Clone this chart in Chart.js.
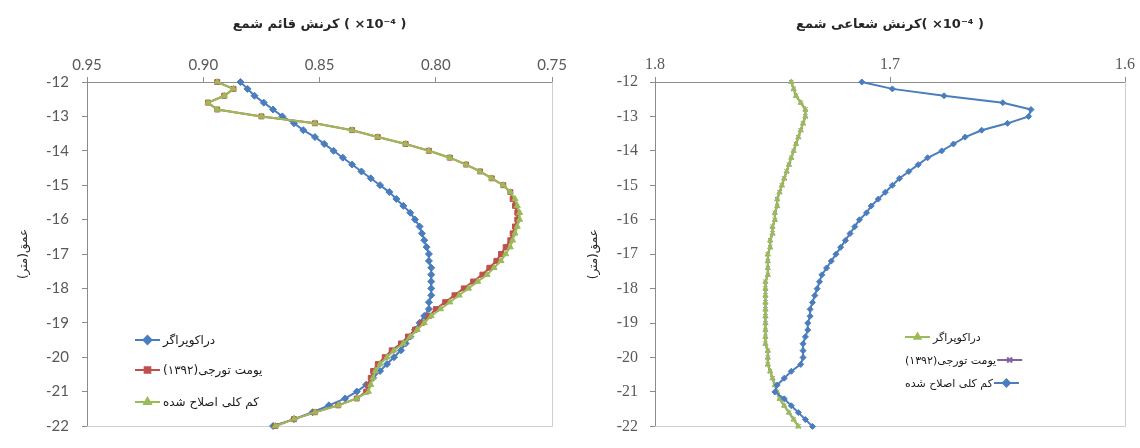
<!DOCTYPE html>
<html>
<head>
<meta charset="utf-8">
<script src="https://cdn.jsdelivr.net/npm/chart.js@4.4.0/dist/chart.umd.min.js"></script>
<style>
    html, body { margin: 0; padding: 0; background: #fff; }
    #wrap { position: relative; width: 1140px; height: 448px; }
    .box { position: absolute; top: 0; width: 570px; height: 448px; }
</style>
</head>
<body>
<div id="wrap">
    <div class="box" style="left:0"><canvas id="axialChart" width="570" height="448"></canvas></div>
    <div class="box" style="left:570px"><canvas id="radialChart" width="570" height="448"></canvas></div>
</div>
<script>
// depth (m), shared by every series
const depths = [
    -12, -12.2, -12.4, -12.6, -12.8, -13, -13.2, -13.4, -13.6, -13.8,
    -14, -14.2, -14.4, -14.6, -14.8, -15, -15.2, -15.4, -15.6, -15.8,
    -16, -16.2, -16.4, -16.6, -16.8, -17, -17.2, -17.4, -17.6, -17.8,
    -18, -18.2, -18.4, -18.6, -18.8, -19, -19.2, -19.4, -19.6, -19.8,
    -20, -20.2, -20.4, -20.6, -20.8, -21, -21.2, -21.4, -21.6, -21.8, -22
];

const seriesNames = ['دراکوپراگر', 'یومت تورجی(۱۳۹۲)', 'کم کلی اصلاح شده'];

// LRM marks keep "×10⁻⁴" left-to-right inside the Persian title
const axialTitle = 'کرنش قائم شمع ( \u200E×10⁻⁴\u200E )';
const radialTitle = 'کرنش شعاعی شمع( \u200E×10⁻⁴\u200E )';
const depthTitle = 'عمق(متر)';

const depthTicks = [-12, -13, -14, -15, -16, -17, -18, -19, -20, -21, -22];
const axialTicks = [0.95, 0.90, 0.85, 0.80, 0.75];
const radialTicks = [1.8, 1.7, 1.6];

// left chart: axial strain
const axialDrako = [
    0.884, 0.881, 0.878, 0.874, 0.870, 0.866, 0.861, 0.857, 0.852, 0.848,
    0.844, 0.840, 0.836, 0.832, 0.828, 0.824, 0.820, 0.817, 0.814, 0.811,
    0.809, 0.807, 0.806, 0.805, 0.804, 0.803, 0.803, 0.802, 0.802, 0.802,
    0.802, 0.802, 0.803, 0.803, 0.805, 0.807, 0.809, 0.811, 0.813, 0.815,
    0.818, 0.821, 0.824, 0.827, 0.830, 0.834, 0.839, 0.846, 0.853, 0.861, 0.870
];
const axialTorji = [
    0.894, 0.887, 0.891, 0.898, 0.894, 0.875, 0.852, 0.836, 0.825, 0.813,
    0.803, 0.794, 0.787, 0.781, 0.776, 0.771, 0.768, 0.767, 0.766, 0.765,
    0.765, 0.766, 0.767, 0.768, 0.770, 0.772, 0.774, 0.777, 0.780, 0.784,
    0.788, 0.792, 0.796, 0.800, 0.803, 0.806, 0.809, 0.812, 0.815, 0.819,
    0.822, 0.825, 0.827, 0.828, 0.829, 0.830, 0.834, 0.842, 0.852, 0.861, 0.869
];
const axialModified = [
    0.894, 0.887, 0.891, 0.898, 0.894, 0.875, 0.852, 0.836, 0.825, 0.813,
    0.803, 0.794, 0.787, 0.781, 0.776, 0.771, 0.768, 0.766, 0.765, 0.764,
    0.764, 0.765, 0.766, 0.767, 0.768, 0.770, 0.772, 0.775, 0.778, 0.782,
    0.786, 0.790, 0.794, 0.798, 0.802, 0.805, 0.808, 0.811, 0.814, 0.818,
    0.821, 0.824, 0.826, 0.827, 0.828, 0.829, 0.834, 0.842, 0.852, 0.861, 0.869
];

// right chart: radial strain
const radialDrako = [
    1.742, 1.741, 1.740, 1.738, 1.736, 1.736, 1.737, 1.738, 1.739, 1.740,
    1.741, 1.742, 1.743, 1.744, 1.745, 1.746, 1.747, 1.748, 1.748, 1.749,
    1.749, 1.750, 1.750, 1.751, 1.751, 1.752, 1.752, 1.752, 1.752, 1.753,
    1.753, 1.753, 1.753, 1.753, 1.753, 1.753, 1.753, 1.753, 1.753, 1.752,
    1.752, 1.752, 1.751, 1.750, 1.749, 1.748, 1.747, 1.745, 1.743, 1.741, 1.739
];
const radialTorji = [
    1.742, 1.741, 1.740, 1.738, 1.736, 1.736, 1.737, 1.738, 1.739, 1.740,
    1.741, 1.742, 1.743, 1.744, 1.745, 1.746, 1.747, 1.748, 1.748, 1.749,
    1.749, 1.750, 1.750, 1.751, 1.751, 1.752, 1.752, 1.752, 1.752, 1.753,
    1.753, 1.753, 1.753, 1.753, 1.753, 1.753, 1.753, 1.753, 1.753, 1.752,
    1.752, 1.752, 1.751, 1.750, 1.749, 1.748, 1.747, 1.745, 1.743, 1.741, 1.739
];
const radialModified = [
    1.712, 1.699, 1.677, 1.652, 1.640, 1.641, 1.650, 1.661, 1.668, 1.673,
    1.678, 1.684, 1.688, 1.692, 1.696, 1.699, 1.702, 1.705, 1.708, 1.710,
    1.713, 1.715, 1.717, 1.719, 1.721, 1.723, 1.725, 1.727, 1.729, 1.730,
    1.731, 1.732, 1.733, 1.734, 1.734, 1.735, 1.735, 1.736, 1.737, 1.737,
    1.737, 1.738, 1.742, 1.745, 1.748, 1.749, 1.745, 1.742, 1.739, 1.736, 1.733
];

const BLUE = '#4a7dbd';
const RED = '#c0504d';
const GREEN = '#9bbb59';
const PURPLE = '#8064a2';
const AXIS = '#8c8c8c';
const TICK_TEXT = '#595959';
const PERSIAN_FONT = 'DejaVu Sans';

function toPoints(values) {
    return values.map((v, i) => ({ x: v, y: depths[i] }));
}

function series(label, values, color, style, radius, order) {
    return {
        label: label,
        data: toPoints(values),
        borderColor: color,
        backgroundColor: color,
        pointBackgroundColor: color,
        pointBorderColor: color,
        pointStyle: style,
        pointRadius: radius,
        pointBorderWidth: 1,
        borderWidth: 2,
        showLine: true,
        tension: 0,
        clip: false,
        order: order
    };
}

// light frame on right/bottom of the plot area (excel look)
const framePlugin = {
    id: 'frame',
    beforeDatasetsDraw(chart) {
        const { ctx, chartArea: a } = chart;
        ctx.save();
        ctx.strokeStyle = '#cfcfcf';
        ctx.lineWidth = 1;
        ctx.beginPath();
        ctx.moveTo(Math.round(a.right) + 0.5, a.top);
        ctx.lineTo(Math.round(a.right) + 0.5, Math.round(a.bottom) + 0.5);
        ctx.lineTo(a.left, Math.round(a.bottom) + 0.5);
        ctx.stroke();
        ctx.restore();
    }
};

// legend drawn inside the plot area; some rows put the text before the symbol
const insideLegend = {
    id: 'insideLegend',
    afterDraw(chart, args, opts) {
        const ctx = chart.ctx;
        ctx.save();
        ctx.font = opts.fontSize + 'px "' + PERSIAN_FONT + '"';
        ctx.textBaseline = 'middle';
        ctx.direction = 'rtl';
        ctx.textAlign = 'left';
        chart.data.datasets.forEach((ds, i) => {
            const y = opts.rows[i];
            const len = opts.lineLen;
            const textW = ctx.measureText(ds.label).width;
            let lineX = opts.x;
            let textX = opts.x + len + 3;
            if (opts.textFirst[i]) {
                textX = opts.x;
                lineX = opts.x + textW + 1;
            }
            ctx.strokeStyle = ds.borderColor;
            ctx.fillStyle = ds.borderColor;
            ctx.lineWidth = 2;
            ctx.beginPath();
            ctx.moveTo(lineX, y);
            ctx.lineTo(lineX + len, y);
            ctx.stroke();
            Chart.helpers.drawPoint(ctx, {
                pointStyle: ds.pointStyle,
                radius: ds.pointRadius + 0.5,
                borderWidth: 1,
                rotation: 0
            }, lineX + len / 2, y);
            ctx.fillStyle = '#1a1a1a';
            ctx.fillText(ds.label, textX, y + 1);
        });
        ctx.restore();
    }
};

function depthAxis(width, tickFont, pad) {
    return {
        type: 'linear',
        min: -22,
        max: -12,
        afterBuildTicks: s => { s.ticks = depthTicks.map(v => ({ value: v })); },
        ticks: { font: tickFont, color: TICK_TEXT, padding: pad },
        grid: { drawOnChartArea: false, tickLength: 5, color: AXIS },
        border: { color: AXIS },
        title: {
            display: true,
            text: depthTitle,
            font: { family: PERSIAN_FONT, size: 12 },
            color: '#262626',
            padding: { top: 17, bottom: 0 }
        },
        afterFit: s => { s.width = width; }
    };
}

function strainAxis(min, max, tickValues, digits, title, tickFont) {
    return {
        type: 'linear',
        position: 'top',
        reverse: true,
        min: min,
        max: max,
        afterBuildTicks: s => { s.ticks = tickValues.map(v => ({ value: v })); },
        ticks: { font: tickFont, color: TICK_TEXT, padding: 3, maxRotation: 0, callback: v => v.toFixed(digits) },
        grid: { drawOnChartArea: false, tickLength: 5, color: AXIS },
        border: { color: AXIS },
        title: {
            display: true,
            text: title,
            font: { family: PERSIAN_FONT, size: 13, weight: 'bold' },
            color: '#262626',
            padding: { top: 17, bottom: 0 }
        },
        afterFit: s => { s.height = 82; }
    };
}

new Chart(document.getElementById('axialChart'), {
    type: 'scatter',
    data: {
        datasets: [
            series(seriesNames[0], axialDrako, BLUE, 'rectRot', 3.5, 3),
            series(seriesNames[1], axialTorji, RED, 'rect', 3.5, 2),
            series(seriesNames[2], axialModified, GREEN, 'triangle', 3.5, 1)
        ]
    },
    options: {
        responsive: false,
        animation: false,
        devicePixelRatio: 1,
        layout: { padding: { right: 12, bottom: 11, left: 0, top: 0 } },
        plugins: {
            legend: { display: false },
            tooltip: { enabled: false },
            insideLegend: { x: 135, rows: [340, 370, 402], lineLen: 25, fontSize: 12, textFirst: [false, false, false] }
        },
        scales: {
            x: strainAxis(0.75, 0.95, axialTicks, 2, axialTitle, { family: 'Lato', size: 15 }),
            y: depthAxis(87, { family: 'Lato', size: 15 }, 13)
        }
    },
    plugins: [framePlugin, insideLegend]
});

new Chart(document.getElementById('radialChart'), {
    type: 'scatter',
    data: {
        datasets: [
            series(seriesNames[0], radialDrako, GREEN, 'triangle', 3, 2),
            series(seriesNames[1], radialTorji, PURPLE, 'crossRot', 3, 3),
            series(seriesNames[2], radialModified, BLUE, 'rectRot', 3, 1)
        ]
    },
    options: {
        responsive: false,
        animation: false,
        devicePixelRatio: 1,
        layout: { padding: { right: 15, bottom: 10, left: 0, top: 0 } },
        plugins: {
            legend: { display: false },
            tooltip: { enabled: false },
            insideLegend: { x: 335, rows: [337, 360, 383], lineLen: 25, fontSize: 11, textFirst: [false, true, true] }
        },
        scales: {
            x: strainAxis(1.6, 1.8, radialTicks, 1, radialTitle, { family: 'Liberation Serif', size: 16 }),
            y: depthAxis(85, { family: 'Liberation Serif', size: 16 }, 12)
        }
    },
    plugins: [framePlugin, insideLegend]
});
</script>
</body>
</html>
